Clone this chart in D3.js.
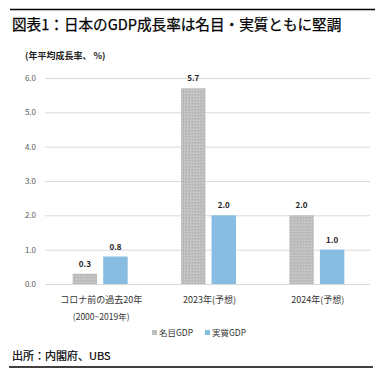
<!DOCTYPE html>
<html>
<head>
<meta charset="utf-8">
<script src="https://cdn.jsdelivr.net/npm/d3@7"></script>
<style>
  body { margin: 0; background: #fff; }
  svg text { font-family: "Noto Sans CJK JP", "Noto Sans", sans-serif; }
</style>
</head>
<body>
<div id="chart"></div>
<script>
// chart data
const categories = ['コロナ前の過去20年|(2000~2019年)', '2023年(予想)', '2024年(予想)']
const seriesNames = ['名目GDP', '実質GDP']
const nominal = [0.3, 5.7, 2.0]
const real = [0.8, 2.0, 1.0]
const yTicks = [0, 1, 2, 3, 4, 5, 6]

const width = 382
const height = 374
const colours = { 名目GDP: 'url(#dots)', 実質GDP: '#86bde0' }
const swatch = { 名目GDP: '#bdbdbd', 実質GDP: '#86bde0' }

const rows = categories.map((c, i) => ({ cat: c, values: [nominal[i], real[i]] }))

const svg = d3.select('#chart')
  .append('svg')
  .attr('width', width)
  .attr('height', height)

// textured grey fill for the nominal bars
const pat = svg.append('defs').append('pattern')
  .attr('id', 'dots')
  .attr('patternUnits', 'userSpaceOnUse')
  .attr('width', 3)
  .attr('height', 3)
pat.append('rect').attr('width', 3).attr('height', 3).attr('fill', '#bfbfbf')
pat.append('rect').attr('x', 0).attr('y', 0).attr('width', 1).attr('height', 1).attr('fill', '#cfcfcf')
pat.append('rect').attr('x', 2).attr('y', 1).attr('width', 1).attr('height', 1).attr('fill', '#aeaeae')

// frame lines
svg.append('line').attr('x1', 10).attr('x2', 375).attr('y1', 9.5).attr('y2', 9.5)
  .attr('stroke', '#000').attr('stroke-width', 1.5)
svg.append('line').attr('x1', 9).attr('x2', 373).attr('y1', 367).attr('y2', 367)
  .attr('stroke', '#000').attr('stroke-width', 1.5)

// title and notes
svg.append('text').attr('x', 12).attr('y', 30)
  .attr('font-size', 14.6).attr('fill', '#000')
  .attr('stroke', '#000').attr('stroke-width', 0.25)
  .text('図表1：日本のGDP成長率は名目・実質ともに堅調')
svg.append('text').attr('x', 25).attr('y', 58.5)
  .attr('font-size', 9).attr('font-weight', 'bold').attr('fill', '#222')
  .text('(年平均成長率、 %)')
svg.append('text').attr('x', 12).attr('y', 360)
  .attr('font-size', 11).attr('fill', '#000')
  .attr('stroke', '#000').attr('stroke-width', 0.2)
  .text('出所：内閣府、UBS')

// scales
const y = d3.scaleLinear().domain([0, 6]).range([284, 78])
const x0 = d3.scaleBand().domain(categories).range([45, 370])
const x1 = d3.scaleBand().domain(seriesNames).range([0, 55]).paddingInner(0.2)

// gridlines + y labels
const yAxis = svg.append('g')
  .attr('transform', 'translate(45,0)')
  .call(d3.axisLeft(y).tickValues(yTicks).tickFormat(d3.format('.1f')).tickSize(-325).tickPadding(9))
yAxis.select('.domain').remove()
yAxis.selectAll('.tick line').attr('stroke', '#d9d9d9').attr('stroke-width', 1)
yAxis.selectAll('.tick text')
  .attr('font-size', 8).attr('fill', '#595959')
  .style('font-family', '"Noto Sans CJK JP", sans-serif')

// bars
const groups = svg.append('g').selectAll('g')
  .data(rows)
  .join('g')
  .attr('transform', d => `translate(${x0(d.cat) + x0.bandwidth() / 2 - 26.5},0)`)

const cells = groups.selectAll('g')
  .data(d => d.values.map((v, i) => ({ key: seriesNames[i], value: v })))
  .join('g')

cells.append('rect')
  .attr('x', d => x1(d.key))
  .attr('width', x1.bandwidth())
  .attr('y', d => y(d.value))
  .attr('height', d => y(0) - y(d.value))
  .attr('fill', d => colours[d.key])

cells.append('text')
  .attr('x', d => x1(d.key) + x1.bandwidth() / 2)
  .attr('y', d => y(d.value) - 7)
  .attr('text-anchor', 'middle')
  .attr('font-size', 8).attr('font-weight', 'bold').attr('fill', '#222')
  .text(d => d.value.toFixed(1))

// category labels
svg.append('g').selectAll('text')
  .data(categories)
  .join('text')
  .attr('x', d => x0(d) + x0.bandwidth() / 2 + 2)
  .attr('y', 303)
  .attr('text-anchor', 'middle')
  .attr('font-size', 9).attr('fill', '#333')
  .each(function (d) {
    const parts = d.split('|')
    d3.select(this).selectAll('tspan')
      .data(parts)
      .join('tspan')
      .attr('x', x0(d) + x0.bandwidth() / 2 + 2)
      .attr('dy', (p, i) => i === 0 ? 0 : 17)
      .attr('font-size', (p, i) => i === 0 ? 9 : 8.5)
      .text(p => p)
  })

// legend
const legend = svg.append('g').selectAll('g')
  .data(seriesNames)
  .join('g')
  .attr('transform', (d, i) => `translate(${152 + i * 53},330)`)
legend.append('rect').attr('width', 5).attr('height', 5).attr('fill', d => swatch[d])
legend.append('text').attr('x', 7).attr('y', 6)
  .attr('font-size', 8.5).attr('fill', '#333')
  .text(d => d)
</script>
</body>
</html>
